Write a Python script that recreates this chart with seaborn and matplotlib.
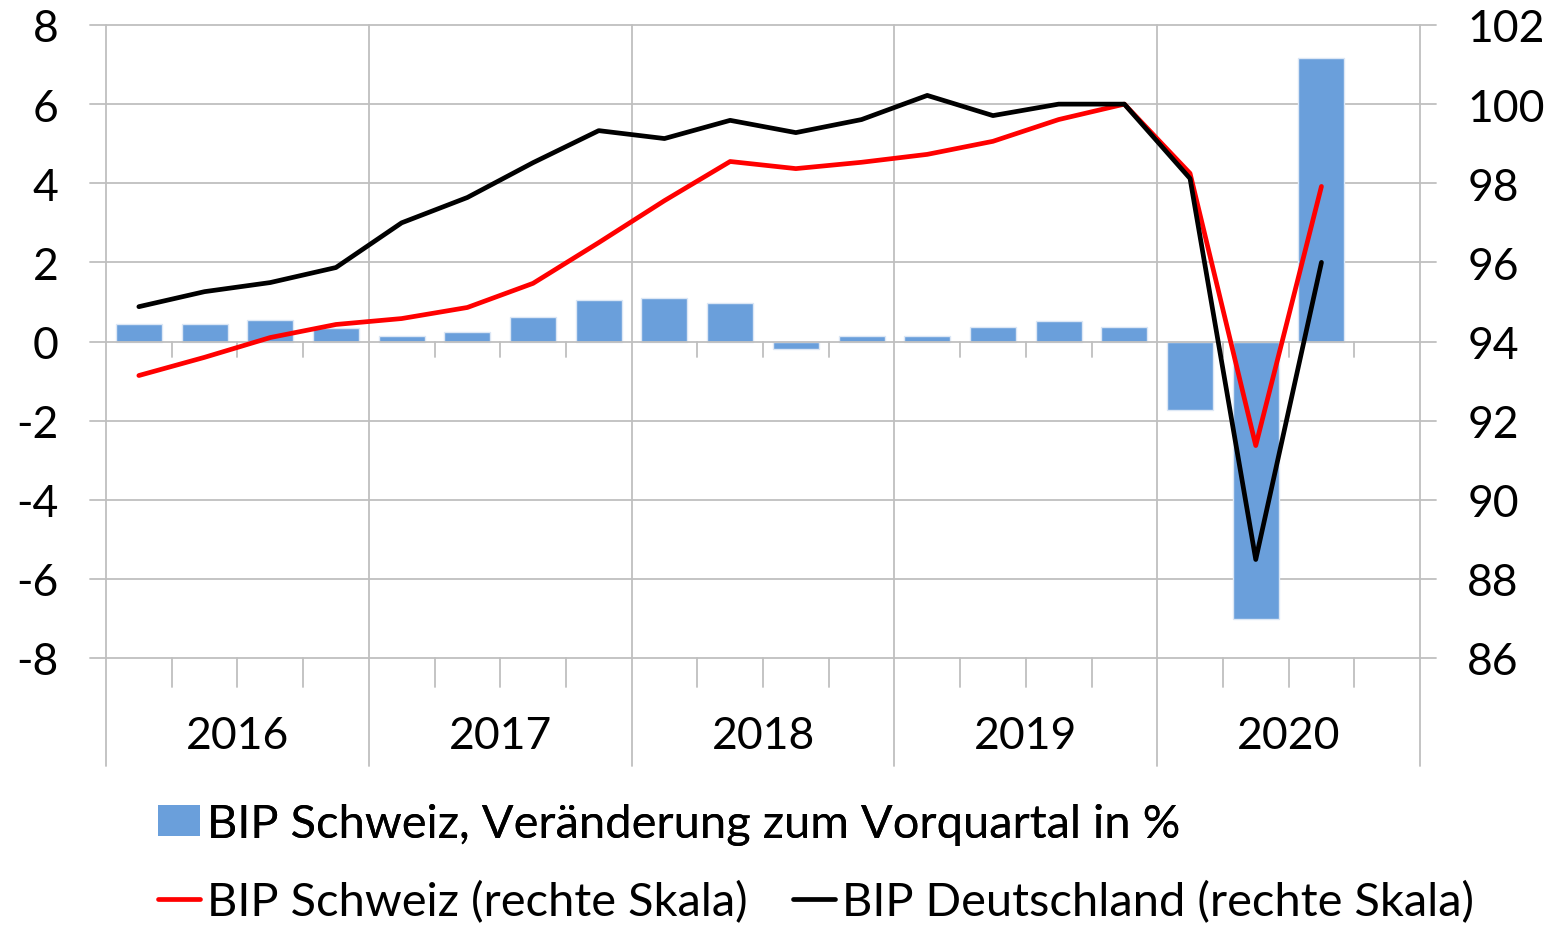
import numpy as np
import pandas as pd
import matplotlib
matplotlib.use("Agg")
import matplotlib.pyplot as plt
import seaborn as sns
from matplotlib.lines import Line2D
from matplotlib.patches import Patch

years = ["2016", "2017", "2018", "2019", "2020"]
quarters = [f"{y}Q{q}" for y in years for q in range(1, 5)]
bip_ch_change = [0.45, 0.45, 0.55, 0.35,
                 0.15, 0.25, 0.62, 1.05,
                 1.10, 0.97, -0.18, 0.15,
                 0.15, 0.37, 0.52, 0.37,
                 -1.72, -7.02, 7.17]
bip_ch_index = [93.14, 93.60, 94.10, 94.43,
                94.58, 94.86, 95.47, 96.50,
                97.56, 98.55, 98.37, 98.53,
                98.73, 99.06, 99.61, 100.0,
                98.25, 91.37, 97.92]
bip_de_index = [94.88, 95.26, 95.49, 95.87,
                97.00, 97.64, 98.52, 99.33,
                99.13, 99.59, 99.28, 99.61,
                100.22, 99.71, 100.0, 100.0,
                98.12, 88.49, 96.0]
left_ticks = [-8, -6, -4, -2, 0, 2, 4, 6, 8]
right_ticks = [86, 88, 90, 92, 94, 96, 98, 100, 102]
labels = ["BIP Schweiz, Veränderung zum Vorquartal in %",
          "BIP Schweiz (rechte Skala)",
          "BIP Deutschland (rechte Skala)"]

BAR = "#6A9FDB"
GRID = "#BFBFBF"
FS = 32

sns.set_theme(style="white")
plt.rcParams["font.family"] = ["Lato", "DejaVu Sans"]
plt.rcParams["axes.unicode_minus"] = False
plt.rcParams["text.color"] = "black"

W, H = 1555, 928
fig = plt.figure(figsize=(W / 100, H / 100), dpi=100)
ax = fig.add_axes([106 / W, 1 - 659 / H, (1420 - 106) / W, (659 - 26) / H])

df = pd.DataFrame({"Quartal": quarters,
                   "Veraenderung": bip_ch_change + [np.nan] * (len(quarters) - len(bip_ch_change))})
sns.barplot(data=df, x="Quartal", y="Veraenderung", order=quarters, color=BAR,
            saturation=1, width=0.7, edgecolor="#DCE7F5", linewidth=1.0,
            ax=ax, zorder=2)

n = len(quarters)
ax.set_xlim(-0.5, n - 0.5)
ax.set_ylim(-8, 8)
for s in ax.spines.values():
    s.set_visible(False)
ax.set_xticks([])
ax.set_xlabel("")
ax.set_ylabel("")
ax.set_yticks(left_ticks)
ax.tick_params(axis="y", length=0, pad=34, labelsize=FS, colors="black")

# horizontal gridlines (extend slightly beyond the plot)
ext = 0.25
for v in left_ticks:
    ax.plot([-0.5 - ext, n - 0.5 + ext], [v, v], color=GRID, lw=1.3,
            clip_on=False, zorder=1 if v != 0 else 3)
# year separators
bottom_ext = -10.73
for k in range(len(years) + 1):
    b = -0.5 + 4 * k
    ax.plot([b, b], [8, bottom_ext], color=GRID, lw=1.3, clip_on=False, zorder=1)
# quarter ticks on zero line and bottom line
for i in range(n):
    b = i + 0.5
    if (i + 1) % 4 != 0:
        ax.plot([b, b], [0, -0.4], color=GRID, lw=1.3, clip_on=False, zorder=3)
        ax.plot([b, b], [-8, -8.73], color=GRID, lw=1.3, clip_on=False, zorder=1)
# year labels
for k, y in enumerate(years):
    ax.text(4 * k + 1.5, -9.97, y, ha="center", va="center", fontsize=FS,
            color="black", clip_on=False)

ax2 = ax.twinx()
xs = np.arange(len(bip_ch_index))
sns.lineplot(x=xs, y=bip_ch_index, ax=ax2, color="#FF0000", lw=3.4,
             solid_capstyle="round", solid_joinstyle="round", legend=False, zorder=4)
sns.lineplot(x=np.arange(len(bip_de_index)), y=bip_de_index, ax=ax2, color="black",
             lw=3.4, solid_capstyle="round", solid_joinstyle="round", legend=False, zorder=5)
ax2.set_ylim(86, 102)
ax2.set_xlim(-0.5, n - 0.5)
ax2.set_yticks(right_ticks)
ax2.tick_params(axis="y", length=0, pad=34, labelsize=FS, colors="black")
ax2.grid(False)
ax2.set_ylabel("")
for s in ax2.spines.values():
    s.set_visible(False)

LFS = 33.8
leg1 = fig.legend(handles=[Patch(facecolor=BAR, edgecolor="none")], labels=[labels[0]],
                  loc="center left", bbox_to_anchor=(158 / W, 1 - 825 / H),
                  frameon=False, fontsize=LFS, handlelength=0.9, handleheight=0.62,
                  handletextpad=0.15, borderpad=0, borderaxespad=0, labelcolor="black")
fig.add_artist(leg1)
fig.legend(handles=[Line2D([], [], color="#FF0000", lw=3.4),
                    Line2D([], [], color="black", lw=3.4)],
           labels=labels[1:], ncol=2, loc="center left",
           bbox_to_anchor=(158 / W, 1 - 903 / H), frameon=False, fontsize=LFS,
           handlelength=0.9, handletextpad=0.15, columnspacing=0.95,
           borderpad=0, borderaxespad=0, labelcolor="black")

fig.savefig("out.png", dpi=100)
